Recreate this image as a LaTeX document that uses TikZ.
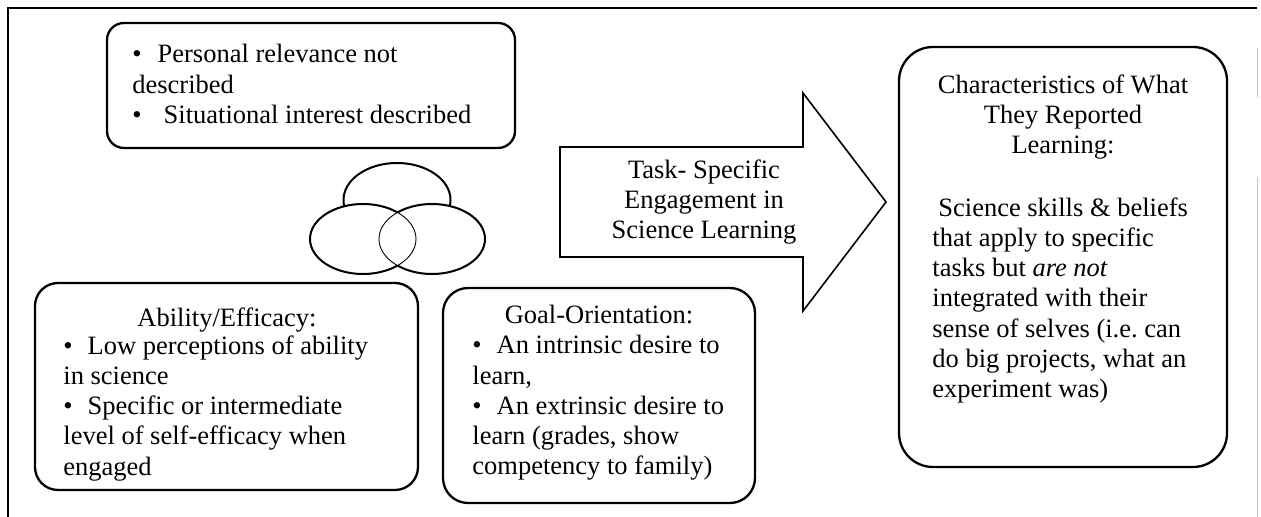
\documentclass[tikz,border=0pt]{standalone}
\usepackage{fontspec}
\setmainfont{Liberation Serif}
\begin{document}
\begin{tikzpicture}[
     x = .5pt, y = -.5pt,
     every node/.style = {
     	inner sep = 0pt, font = \fontsize{13.25}{15.15}\selectfont},
     card/.style = {draw, line width = 1.15pt},
     arrowline/.style = {draw, line width = .8pt, line join = miter},
     ring/.style = {line width = 1pt},
     lens/.style = {line width = .45pt}
     ]
     \useasboundingbox (0,0) rectangle (1261,517);

       % frame
       \draw[line width = 1.3pt] (8,517) -- (8,8) -- (1257,8);
       \draw[gray!45, line width = .4pt] (1257,48) -- (1257,97);
       \draw[gray!45, line width = .4pt] (1257,177) -- (1257,517);

       % boxes
       \draw[card, rounded corners = 8.5pt] (107,23) rectangle (515,148);
       \draw[card, rounded corners = 11.5pt] (35,283) rectangle (418,490);
       \draw[card, rounded corners = 12.5pt] (443,288) rectangle (755,503);
       \draw[card, rounded corners = 17pt] (899,47) rectangle (1227,467);

       % arrow
       \draw[arrowline] (560,147) -- (803,147) -- (803,93) -- (886,202)
             -- (803,311) -- (803,257) -- (560,257) -- cycle;

       % ellipses
       \draw[ring, fill = white] (397,200) ellipse [x radius = 53.5, y radius = 37];
       \fill[white] (363,239) ellipse [x radius = 53, y radius = 35];
       \fill[white] (432,239) ellipse [x radius = 53, y radius = 35];
       \draw[lens] (363,239) ellipse [x radius = 53, y radius = 35];
       \draw[lens] (432,239) ellipse [x radius = 53, y radius = 35];
       \begin{scope}[even odd rule]
       \clip (0,0) rectangle (1261,517)
             (432,239) ellipse [x radius = 53, y radius = 35];
       \draw[ring] (363,239) ellipse [x radius = 53, y radius = 35];
       \end{scope}
       \begin{scope}[even odd rule]
       \clip (0,0) rectangle (1261,517)
             (363,239) ellipse [x radius = 53, y radius = 35];
       \draw[ring] (432,239) ellipse [x radius = 53, y radius = 35];
       \end{scope}

       % texts
       \node[anchor = north west, align = left] (interest) at (132,44)
             {\textbullet\hspace{8pt}Personal relevance not\\described\\
              \textbullet\hspace{11pt}Situational interest described};
       \node[anchor = north] (abilityhead) at (227,307) {Ability/Efficacy:};
       \node[anchor = north west, align = left] (ability) at (63,335)
             {\textbullet\hspace{7.5pt}Low perceptions of ability\\in science\\
              \textbullet\hspace{7.5pt}Specific or intermediate\\
              level of self-efficacy when\\engaged};
       \node[anchor = north] (goalhead) at (599,305) {Goal-Orientation:};
       \node[anchor = north west, align = left] (goal) at (472,335)
             {\textbullet\hspace{7.5pt}An intrinsic desire to\\learn,\\
              \textbullet\hspace{7.5pt}An extrinsic desire to\\
              learn (grades, show\\competency to family)};
       \node[anchor = north, align = center] (task) at (704,159)
             {Task- Specific\\Engagement in\\Science Learning};
       \node[anchor = north, align = center] (reportedhead) at (1063,74)
             {Characteristics of What\\They Reported\\Learning:};
       \node[anchor = north west, align = left] (reported) at (932,197)
             {\hspace*{3pt}Science skills \& beliefs\\that apply to specific\\
              tasks but \textit{are not}\\integrated with their\\
              sense of selves (i.e.\ can\\do big projects, what an\\
              experiment was)};

      \end{tikzpicture}
\end{document}
